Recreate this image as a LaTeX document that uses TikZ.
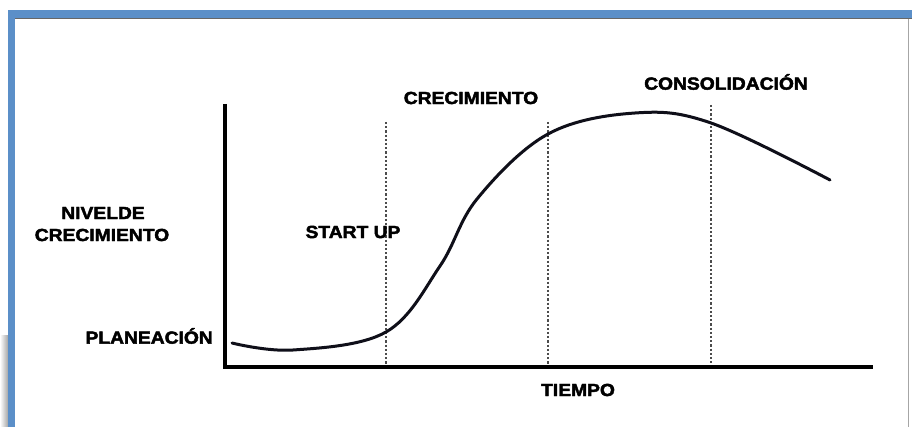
\documentclass[tikz,border=0pt]{standalone}
\usepackage{fontspec}
\newfontfamily\labfont[FakeStretch=1.1,FakeBold=2.5]{Liberation Sans}
\definecolor{framblue}{RGB}{91,143,200}
\definecolor{curvecol}{RGB}{15,15,25}
\begin{document}
\begin{tikzpicture}[x=1pt,y=-1pt,
  lab/.style={font=\labfont\bfseries\fontsize{17.5pt}{20pt}\selectfont, inner sep=0pt, text=black},
  axisline/.style={line width=4pt, black},
  phaseline/.style={line width=1.1pt, black!70, dash pattern=on 2.2pt off 2pt},
  growth/.style={line width=3pt, curvecol, line cap=round}]
\useasboundingbox (0,0) rectangle (912,427);
\fill[white] (0,0) rectangle (912,427);
% shadow at lower left
\shade[left color=white, right color=black!35] (0,335) rectangle (8,427);
% frame
\fill[framblue] (8,10) rectangle (912,18);
\fill[framblue] (8,10) rectangle (15,427);
\draw[black!60, line width=1pt] (15,18.5) -- (912,18.5);
\draw[black!35, line width=1pt] (908,19) -- (908,427);
% axes
\coordinate (ytop) at (225,104);
\coordinate (orig) at (225,367);
\coordinate (xend) at (873,367);
\draw[axisline] (ytop) -- (orig) -- (xend);
% phase lines
\coordinate (p1t) at (386,122); \coordinate (p1b) at (386,365);
\coordinate (p2t) at (548,122); \coordinate (p2b) at (548,365);
\coordinate (p3t) at (711,105); \coordinate (p3b) at (711,365);
\draw[phaseline] (p1t) -- (p1b);
\draw[phaseline] (p2t) -- (p2b);
\draw[phaseline] (p3t) -- (p3b);
% curve
\draw[growth] plot[smooth, tension=0.6] coordinates {(232,343) (293,350) (386,332) (440,266) (477,199) (548,134) (635,113) (711,123) (830,180)};
% labels
\node[lab] (nivel) at (103,213) {NIVELDE};
\node[lab] (crec1) at (102,235) {CRECIMIENTO};
\node[lab, anchor=east] (plan) at (213,336) {PLANEACIÓN};
\node[lab] (start) at (353,232) {START UP};
\node[lab] (crec2) at (471,98) {CRECIMIENTO};
\node[lab] (cons) at (726,82) {CONSOLIDACIÓN};
\node[lab] (tiempo) at (578,390) {TIEMPO};
\end{tikzpicture}
\end{document}
